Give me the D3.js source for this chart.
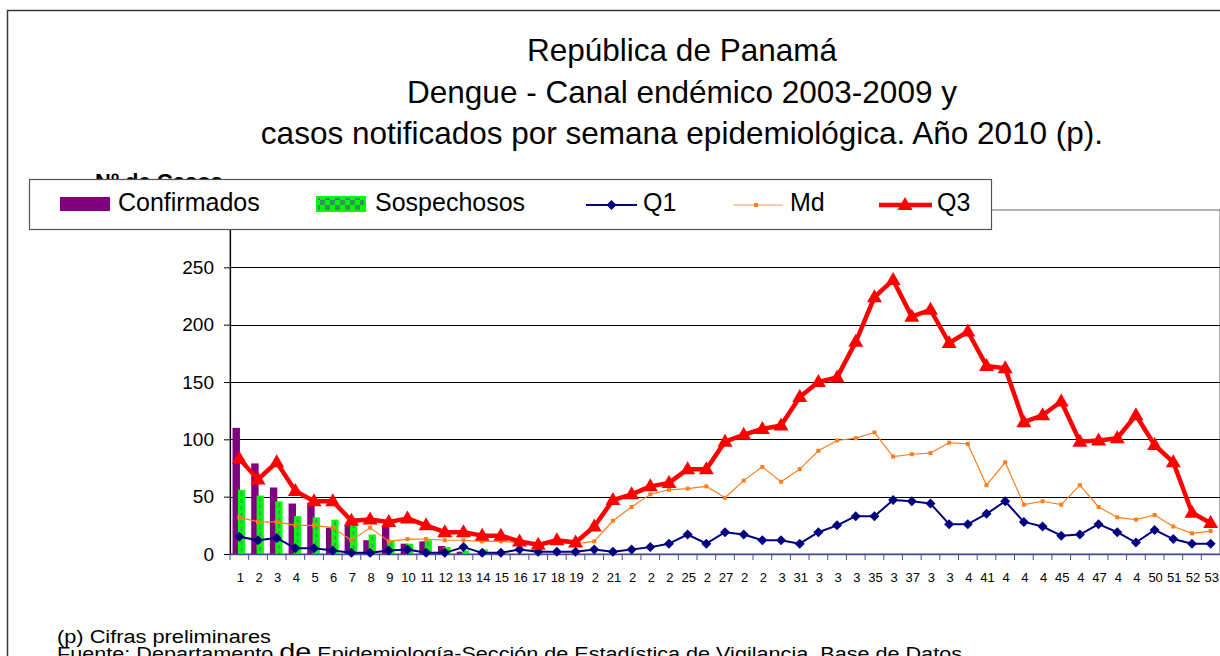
<!DOCTYPE html>
<html><head><meta charset="utf-8">
<script src="https://cdn.jsdelivr.net/npm/d3@7"></script>
<style>
body{margin:0;background:#fff;overflow:hidden;}
svg{display:block;font-family:"Liberation Sans",Arial,sans-serif;}
</style>
</head><body>
<svg id="c" width="1220" height="656"></svg>
<script>
// ---------- data ----------
const weeks = d3.range(1, 54);
const weekLabels = ["1","2","3","4","5","6","7","8","9","10","11","12","13","14","15","16","17","18","19",
  "2","21","2","2","2","25","2","27","2","2","3","31","3","3","3","35","3","37","3","3",
  "4","41","4","4","4","45","4","47","4","4","50","51","52","53"];
const confirmados = [110, 79, 58, 44, 45, 23, 25, 12, 25, 9, 11, 7, 2, 0];
const sospechosos = [56, 51, 46, 33, 32, 30, 28, 17, 12, 9, 12, 6, 3, 4];
const q1 = [15,12,14,5,5,3,1,1,3,4, 1,1,6,1,1,4,2,2,2,4, 2,4,6,9,17,9,19,17,12,12,
            9,19,25,33,33,47,46,44,26,26, 35,46,28,24,16,17,26,19,10,21, 13,9,9];
const md = [32,28,28,25,25,23,12,23,11,13, 13,12,12,11,11,10,10,10,9,11, 29,41,52,56,57,59,49,64,76,63,
            74,90,99,101,106,85,87,88,97,96, 60,80,43,46,43,60,41,32,30,34, 24,18,20];
const q3 = [83,65,80,55,46,46,29,30,28,31, 25,19,19,16,16,11,8,12,10,24, 47,52,59,62,74,74,98,104,109,112,
            137,150,154,185,224,239,207,213,184,194, 164,162,115,121,133,98,99,101,121,95, 80,36,27];
const yTicks = [0, 50, 100, 150, 200, 250];
const titleLines = ["República de Panamá", "Dengue - Canal endémico 2003-2009 y",
  "casos notificados por semana epidemiológica. Año 2010 (p)."];

// ---------- layout ----------
const svg = d3.select("#c");
const P = {l: 230, r: 1220, t: 210, b: 554};
const x = d3.scaleBand().domain(weeks).range([P.l, P.r]).padding(0);
const y = d3.scaleLinear().domain([0, 300]).range([P.b, P.t]);
const bw = x.bandwidth();
const cx = w => x(w) + bw / 2;

const defs = svg.append("defs");
const pat = defs.append("pattern").attr("id", "chk").attr("patternUnits", "userSpaceOnUse")
  .attr("width", 10).attr("height", 10);
pat.append("rect").attr("width", 10).attr("height", 10).attr("fill", "#00ff00");
pat.append("rect").attr("width", 5).attr("height", 5).attr("fill", "#3a8f5e");
pat.append("rect").attr("x", 5).attr("y", 5).attr("width", 5).attr("height", 5).attr("fill", "#3a8f5e");

// outer frame
svg.append("rect").attr("x", 7.5).attr("y", 10.5).attr("width", 1400).attr("height", 800)
  .attr("fill", "#fff").attr("stroke", "#3a3a3a").attr("stroke-width", 1.5);

// title
svg.append("g").selectAll("text").data(titleLines).join("text")
  .attr("x", 682).attr("y", (d, i) => 61 + i * 41.5)
  .attr("text-anchor", "middle").attr("font-size", 31.5).attr("fill", "#000")
  .text(d => d);

// plot area border
svg.append("rect").attr("x", P.l).attr("y", P.t).attr("width", P.r - P.l).attr("height", P.b - P.t)
  .attr("fill", "none").attr("stroke", "#808080").attr("stroke-width", 1.2);

// gridlines
svg.append("g").selectAll("line").data(yTicks.filter(d => d > 0)).join("line")
  .attr("x1", P.l).attr("x2", P.r).attr("y1", d => Math.round(y(d)) + 0.5).attr("y2", d => Math.round(y(d)) + 0.5)
  .attr("stroke", "#000").attr("stroke-width", 1);

// y axis
const yAxis = svg.append("g").attr("transform", `translate(${P.l},0)`)
  .call(d3.axisLeft(y).tickValues(yTicks).tickSize(6).tickSizeOuter(0).tickPadding(10));
yAxis.select(".domain").attr("stroke", "#000").attr("stroke-width", 1.2);
yAxis.selectAll(".tick line").attr("stroke", "#000");
yAxis.selectAll("text").attr("font-size", 19).attr("font-family", "Liberation Sans, Arial, sans-serif").attr("fill", "#000");

// bars
const barData = weeks.map((w, i) => ({w, c: confirmados[i], s: sospechosos[i]})).filter(d => d.c != null);
svg.append("g").selectAll("rect").data(barData.filter(d => d.c > 0)).join("rect")
  .attr("x", d => cx(d.w) - 6.8).attr("width", 7.4)
  .attr("y", d => y(d.c)).attr("height", d => y(0) - y(d.c))
  .attr("fill", "#800080");
const gB = svg.append("g");
gB.selectAll("rect").data(barData.filter(d => d.s > 0)).join("rect")
  .attr("x", d => cx(d.w) - 1.4).attr("width", 7.2)
  .attr("y", d => y(d.s)).attr("height", d => y(0) - y(d.s))
  .attr("fill", "#00ff00");
gB.selectAll("line").data(barData.filter(d => d.s > 3)).join("line")
  .attr("x1", d => cx(d.w) + 2.2).attr("x2", d => cx(d.w) + 2.2)
  .attr("y1", d => y(d.s) + 2).attr("y2", y(0))
  .attr("stroke", "#4a9a6a").attr("stroke-width", 2).attr("stroke-dasharray", "4,3");

// x axis
const xAxisG = svg.append("g");
xAxisG.append("line").attr("x1", P.l).attr("x2", P.r).attr("y1", P.b + 0.5).attr("y2", P.b + 0.5)
  .attr("stroke", "#4b4b9b").attr("stroke-width", 1.5);
xAxisG.selectAll("line.t").data(weeks).join("line").attr("class", "t")
  .attr("x1", d => x(d)).attr("x2", d => x(d)).attr("y1", P.b).attr("y2", P.b + 6)
  .attr("stroke", "#4b4b9b").attr("stroke-width", 1);
xAxisG.selectAll("text").data(weeks).join("text")
  .attr("x", d => cx(d) + 1).attr("y", 582).attr("text-anchor", "middle")
  .attr("font-size", 13).attr("fill", "#000")
  .text((d, i) => weekLabels[i]);

// lines
function series(vals, color, width) {
  const line = d3.line().x((d, i) => cx(weeks[i])).y(d => y(d));
  svg.append("path").datum(vals).attr("d", line).attr("fill", "none")
    .attr("stroke", color).attr("stroke-width", width).attr("stroke-linejoin", "round");
}
// Q1
series(q1, "#000080", 2);
svg.append("g").selectAll("path").data(q1).join("path")
  .attr("transform", (d, i) => `translate(${cx(weeks[i])},${y(d)})`)
  .attr("d", "M0,-5L5,0L0,5L-5,0Z").attr("fill", "#000080");
// Md
series(md, "#ff7f1e", 1.2);
svg.append("g").selectAll("rect").data(md).join("rect")
  .attr("x", (d, i) => cx(weeks[i]) - 2).attr("y", d => y(d) - 2)
  .attr("width", 4).attr("height", 4).attr("fill", "#ff7f1e");
// Q3
series(q3, "#ff0000", 4.5);
svg.append("g").selectAll("path").data(q3).join("path")
  .attr("transform", (d, i) => `translate(${cx(weeks[i])},${y(d)})`)
  .attr("d", "M0,-8L7.5,5L-7.5,5Z").attr("fill", "#ff0000");

// y axis title (partly hidden by legend, as in the original)
svg.append("text").attr("x", 95).attr("y", 189).attr("font-size", 22).attr("font-weight", "bold")
  .text("Nº de Casos");

// legend
const lg = svg.append("g");
lg.append("rect").attr("x", 29.5).attr("y", 179.5).attr("width", 962).attr("height", 50)
  .attr("fill", "#fff").attr("stroke", "#555").attr("stroke-width", 1.2);
lg.append("rect").attr("x", 60).attr("y", 197).attr("width", 50).attr("height", 14).attr("fill", "#800080");
lg.append("rect").attr("x", 317).attr("y", 197).attr("width", 48).attr("height", 14)
  .attr("fill", "url(#chk)").attr("stroke", "#00ff00").attr("stroke-width", 2);
const lgText = [["Confirmados", 118], ["Sospechosos", 375], ["Q1", 643], ["Md", 790], ["Q3", 937]];
lg.selectAll("text").data(lgText).join("text").attr("x", d => d[1]).attr("y", 211)
  .attr("font-size", 25).attr("fill", "#000").text(d => d[0]);
lg.append("line").attr("x1", 586).attr("x2", 637).attr("y1", 205).attr("y2", 205).attr("stroke", "#000080").attr("stroke-width", 2);
lg.append("path").attr("transform", "translate(611.5,205)").attr("d", "M0,-5L5,0L0,5L-5,0Z").attr("fill", "#000080");
lg.append("line").attr("x1", 733).attr("x2", 783).attr("y1", 205).attr("y2", 205).attr("stroke", "#ff9a50").attr("stroke-width", 1.2);
lg.append("rect").attr("x", 754).attr("y", 203).attr("width", 4).attr("height", 4).attr("fill", "#ff7f1e");
lg.append("line").attr("x1", 879).attr("x2", 932).attr("y1", 205).attr("y2", 205).attr("stroke", "#ff0000").attr("stroke-width", 4.5);
lg.append("path").attr("transform", "translate(905,205)").attr("d", "M0,-8L7.5,5L-7.5,5Z").attr("fill", "#ff0000");

// footer
svg.append("text").attr("x", 57).attr("y", 643).attr("font-size", 18)
  .attr("textLength", 214).attr("lengthAdjust", "spacingAndGlyphs").text("(p) Cifras preliminares");
const f2 = svg.append("text").attr("x", 57).attr("y", 660).attr("font-size", 18)
  .attr("textLength", 905).attr("lengthAdjust", "spacingAndGlyphs");
f2.append("tspan").text("Fuente: Departamento ");
f2.append("tspan").attr("font-size", 24).text("de");
f2.append("tspan").text(" Epidemiología-Sección de Estadística de Vigilancia. Base de Datos");
</script>
</body></html>
